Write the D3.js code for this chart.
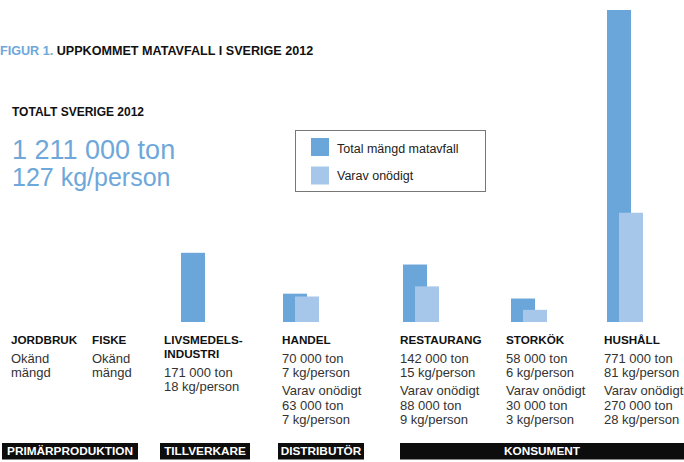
<!DOCTYPE html>
<html><head><meta charset="utf-8">
<script src="https://cdn.jsdelivr.net/npm/d3@7"></script>
<style>body{margin:0;background:#fff} svg{display:block;font-family:"Liberation Sans",Arial,sans-serif}</style>
</head><body><svg id="c" width="684" height="462"></svg>
<script>
// ---- data ----
const categories = ["JORDBRUK","FISKE","LIVSMEDELS-INDUSTRI","HANDEL","RESTAURANG","STORKÖK","HUSHÅLL"];
const totalTon = [null,null,171000,70000,142000,58000,771000];
const totalKg = [null,null,18,7,15,6,81];
const unnecessaryTon = [null,null,null,63000,88000,30000,270000];
const unnecessaryKg = [null,null,null,7,9,3,28];
const stages = ["PRIMÄRPRODUKTION","TILLVERKARE","DISTRIBUTÖR","KONSUMENT"];
const seriesNames = ["Total mängd matavfall","Varav onödigt"];
const swedenTon = 1211000;
const swedenKg = 127;
const titlePrefix = "FIGUR 1.";
const titleText = "UPPKOMMET MATAVFALL I SVERIGE 2012";
const subTitle = "TOTALT SVERIGE 2012";

// ---- layout ----
const colX = [11,92,164,282,400,506,604];
const barX = [null,null,181,283,403,511,607];
const stageX0 = [2,160,278,400];
const stageX1 = [138,250,364,684];
const darkBlue = "#6aa6da", lightBlue = "#a6c7ea", textBlue = "#6ea7da";
const barW = 24, baseY = 322;

const fmt = d3.formatLocale({decimal:",",thousands:" ",grouping:[3],currency:["","kr"]}).format(",");
const svg = d3.select("#c");

const xCol = d3.scaleOrdinal().domain(categories).range(colX);
const xBar = d3.scaleOrdinal().domain(categories).range(barX);
const y = d3.scaleLinear().domain([0, d3.max(totalTon)]).range([baseY, 10]);

const rows = categories.map((c,i)=>({c, t:totalTon[i], tk:totalKg[i], u:unnecessaryTon[i], uk:unnecessaryKg[i]}));

// title
const tt = svg.append("text").attr("x",0).attr("y",55).attr("font-size",12.6).attr("font-weight","bold");
tt.append("tspan").attr("fill",textBlue).text(titlePrefix+" ");
tt.append("tspan").attr("fill","#111").text(titleText);

svg.append("text").attr("x",12).attr("y",116).attr("font-size",12).attr("font-weight","bold").attr("fill","#111").text(subTitle);
svg.append("text").attr("x",12).attr("y",159).attr("font-size",27).attr("fill",textBlue).text(fmt(swedenTon)+" ton");
svg.append("text").attr("x",12).attr("y",186).attr("font-size",25).attr("fill",textBlue).text(swedenKg+" kg/person");

// legend
svg.append("rect").attr("x",295.5).attr("y",130.5).attr("width",190).attr("height",61).attr("fill","none").attr("stroke","#777").attr("stroke-width",1);
seriesNames.forEach((n,i)=>{
  svg.append("rect").attr("x",311).attr("y",138+i*28.5).attr("width",18).attr("height",18).attr("fill",i?lightBlue:darkBlue);
  svg.append("text").attr("x",337).attr("y",152.5+i*27).attr("font-size",12.5).attr("fill","#222").text(n);
});

// bars
const withTotal = rows.filter(d=>d.t!=null);
svg.selectAll("rect.tot").data(withTotal).join("rect").attr("class","tot")
  .attr("x",d=>xBar(d.c)).attr("width",barW).attr("y",d=>y(d.t)).attr("height",d=>y(0)-y(d.t)).attr("fill",darkBlue);
svg.selectAll("rect.unn").data(rows.filter(d=>d.u!=null)).join("rect").attr("class","unn")
  .attr("x",d=>xBar(d.c)+barW/2).attr("width",barW).attr("y",d=>y(d.u)).attr("height",d=>y(0)-y(d.u)).attr("fill",lightBlue);

// column texts
rows.forEach(d=>{
  const x = xCol(d.c);
  const parts = d.c.includes("-") ? [d.c.split("-")[0]+"-", d.c.split("-")[1]] : [d.c];
  let yy = 344;
  parts.forEach((p,k)=>{
    svg.append("text").attr("x",x).attr("y",yy+k*14).attr("font-size",11.7).attr("font-weight","bold").attr("fill","#111").text(p);
  });
  yy += (parts.length-1)*14;
  const body = (s,yb)=>svg.append("text").attr("x",x).attr("y",yb).attr("font-size",13).attr("fill","#333").text(s);
  if (d.t==null) {
    body("Okänd", yy+19); body("mängd", yy+33);
  } else {
    body(fmt(d.t)+" ton", yy+18.7); body(d.tk+" kg/person", yy+32.7);
    if (d.u!=null) {
      body("Varav onödigt", yy+51.3); body(fmt(d.u)+" ton", yy+66); body(d.uk+" kg/person", yy+80);
    }
  }
});

// stage boxes
stages.forEach((s,i)=>{
  svg.append("rect").attr("x",stageX0[i]).attr("y",443).attr("width",stageX1[i]-stageX0[i]).attr("height",16.5).attr("fill","#0d0d0d");
  svg.append("text").attr("x",(stageX0[i]+stageX1[i])/2).attr("y",455.3).attr("text-anchor","middle").attr("font-size",11.8).attr("font-weight","bold").attr("fill","#fff").text(s);
});
</script></body></html>
